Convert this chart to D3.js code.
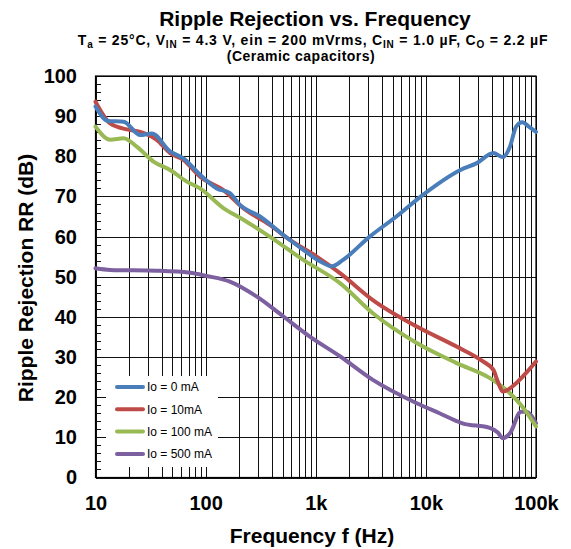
<!DOCTYPE html>
<html>
<head>
<meta charset="utf-8">
<script src="https://cdnjs.cloudflare.com/ajax/libs/d3/7.8.5/d3.min.js"></script>
<style>
  body { margin: 0; background: #fff; }
  svg { font-family: "Liberation Sans", Arial, Helvetica, sans-serif; }
  .grid line { stroke: #111; stroke-width: 1; shape-rendering: crispEdges; }
  .grid path { display: none; }
  .ticklabels path, .ticklabels line { display: none; }
  .ticklabels text { font-size: 20px; font-weight: bold; fill: #000; }
</style>
</head>
<body>
<div id="chart"></div>
<script>
// frequencies (Hz) and ripple rejection (dB)
var freq0 = [10, 13, 18, 25.5, 32.5, 47.6, 62.9, 89, 126, 166, 205, 312, 508, 771, 1100, 1400, 1770, 3090, 5400, 9400, 20600, 29000, 41000, 50000, 58000, 66000, 75000, 86000, 100000];
var rr0   = [92.4, 88.8, 88.6, 85.3, 85.7, 81.2, 79.5, 75.4, 72, 70.8, 67.9, 65, 60.4, 56.7, 53.8, 52.6, 54.2, 60, 65, 70.4, 76.6, 78.3, 80.8, 79.8, 82.4, 87.4, 88.5, 87.4, 86.1];

var freq10 = [10, 13.6, 19.3, 25.5, 36, 47.6, 62.9, 89, 145, 220, 382, 583, 1020, 1660, 3300, 8260, 19000, 33000, 41000, 45000, 50000, 66000, 81000, 100000];
var rr10   = [93.6, 88.2, 86.7, 86.1, 84.1, 80.8, 79.1, 74.9, 71.6, 67.1, 62.9, 59.2, 55, 50.9, 44.2, 37.6, 32.6, 28.9, 26.8, 23.9, 21.4, 23.5, 26, 28.9];

var freq100 = [10, 13.6, 18, 23.7, 33.6, 47.6, 67.5, 89, 145, 220, 382, 771, 1660, 3300, 8260, 19000, 38500, 58000, 75000, 100000];
var rr100   = [87.4, 84.1, 84.5, 82.4, 78.7, 76.6, 73.7, 72, 67.1, 64.2, 60, 54.2, 48.4, 40.9, 33.5, 28.5, 24.7, 21, 17.7, 12.7];

var freq500 = [10, 13.6, 36, 72, 102, 166, 290, 508, 884, 1660, 3300, 8260, 13300, 21500, 38500, 45000, 50000, 58000, 73000, 81000, 100000];
var rr500   = [52.1, 51.7, 51.5, 51, 50.2, 48.8, 45.1, 40.1, 35.1, 30.2, 24.3, 18.5, 16, 13.5, 12.3, 11.2, 9.8, 11, 16.4, 16.4, 13.5];

var seriesNames = ["Io = 0 mA", "Io = 10mA", "Io = 100 mA", "Io = 500 mA"];
var seriesColors = ["#4a7ebb", "#be4b48", "#98b954", "#7d60a0"];

var decadeTicks = [10, 100, 1000, 10000, 100000];
var decadeLabels = ["10", "100", "1k", "10k", "100k"];
var rrTicks = [0, 10, 20, 30, 40, 50, 60, 70, 80, 90, 100];

var W = 571, H = 549;
var plot = {left: 95.5, right: 536, top: 76, bottom: 477.5};

var svg = d3.select("#chart")
            .append("svg")
            .attr("width", W)
            .attr("height", H);

var x = d3.scaleLog()
          .domain([10, 100000])
          .range([plot.left, plot.right]);

var y = d3.scaleLinear()
          .domain([0, 100])
          .range([plot.bottom, plot.top]);

// all 1..9 x decade values for the vertical grid
var minorFreqs = [];
decadeTicks.slice(0, 4).forEach(function(d) {
  for (var k = 1; k < 10; k++) minorFreqs.push(d * k);
});
minorFreqs.push(100000);

//vertical grid
svg.append("g")
   .attr("class", "grid")
   .attr("transform", "translate(0," + plot.bottom + ")")
   .call(d3.axisBottom(x).tickValues(minorFreqs).tickSize(-(plot.bottom - plot.top)).tickFormat(""));

//horizontal grid
svg.append("g")
   .attr("class", "grid")
   .attr("transform", "translate(" + plot.left + ",0)")
   .call(d3.axisLeft(y).tickValues(rrTicks).tickSize(-(plot.right - plot.left)).tickFormat(""));

//small inside ticks every 2 dB
svg.append("g")
   .attr("class", "grid")
   .attr("transform", "translate(" + plot.left + ",0)")
   .call(d3.axisRight(y).tickValues(d3.range(0, 101, 2)).tickSize(5).tickFormat(""));

//frame
svg.append("rect")
   .attr("x", plot.left)
   .attr("y", plot.top)
   .attr("width", plot.right - plot.left)
   .attr("height", plot.bottom - plot.top)
   .attr("fill", "none")
   .attr("stroke", "#000")
   .attr("stroke-width", 1.2);

//legend background hides the grid
var legendX = 106, legendY = 376;
svg.append("rect")
   .attr("x", legendX)
   .attr("y", legendY)
   .attr("width", 112)
   .attr("height", 91)
   .attr("fill", "#fff");

//curves
var allSeries = [
  {f: freq0, v: rr0},
  {f: freq10, v: rr10},
  {f: freq100, v: rr100},
  {f: freq500, v: rr500}
];

var line = d3.line()
             .x(function(d) { return x(d[0]); })
             .y(function(d) { return y(d[1]); })
             .curve(d3.curveMonotoneX);

// draw back to front so blue sits on top like the original
allSeries.slice().reverse().forEach(function(s, i) {
  var idx = allSeries.length - 1 - i;
  svg.append("path")
     .datum(d3.zip(s.f, s.v))
     .attr("d", line)
     .attr("fill", "none")
     .attr("stroke", seriesColors[idx])
     .attr("stroke-width", 4)
     .attr("stroke-linejoin", "round")
     .attr("stroke-linecap", "round");
});

//legend entries
var legend = svg.selectAll(".legendItem")
                .data(seriesNames)
                .enter()
                .append("g")
                .attr("class", "legendItem")
                .attr("transform", function(d, i) {
                  return "translate(" + (legendX + 11) + "," + (legendY + 11 + i * 22.3) + ")";
                });

legend.append("line")
      .attr("x1", 0)
      .attr("x2", 26)
      .attr("stroke", function(d, i) { return seriesColors[i]; })
      .attr("stroke-width", 4)
      .attr("stroke-linecap", "round");

legend.append("text")
      .attr("x", 30)
      .attr("dy", "0.36em")
      .style("font-size", "12px")
      .text(function(d) { return d; });

//tick labels
svg.append("g")
   .attr("class", "ticklabels")
   .attr("transform", "translate(0," + plot.bottom + ")")
   .call(d3.axisBottom(x).tickValues(decadeTicks).tickSize(0).tickPadding(18)
           .tickFormat(function(d, i) { return decadeLabels[i]; }));

svg.append("g")
   .attr("class", "ticklabels")
   .attr("transform", "translate(" + plot.left + ",0)")
   .call(d3.axisLeft(y).tickValues(rrTicks).tickSize(0).tickPadding(18.5));

//axis titles
svg.append("text")
   .attr("x", 312)
   .attr("y", 543)
   .attr("text-anchor", "middle")
   .style("font-size", "21px")
   .style("font-weight", "bold")
   .text("Frequency f (Hz)");

svg.append("text")
   .attr("transform", "translate(33,278) rotate(-90)")
   .attr("text-anchor", "middle")
   .style("font-size", "21px")
   .style("font-weight", "bold")
   .text("Ripple Rejection RR (dB)");

//titles
svg.append("text")
   .attr("x", 315)
   .attr("y", 26)
   .attr("text-anchor", "middle")
   .style("font-size", "21px")
   .style("font-weight", "bold")
   .text("Ripple Rejection vs. Frequency");

var sub = svg.append("text")
             .attr("x", 313)
             .attr("y", 45)
             .attr("text-anchor", "middle")
             .style("font-size", "14px")
             .style("letter-spacing", "0.8px")
             .style("font-weight", "bold");

var subParts = [
  ["T", false], ["a", true], [" = 25°C, V", false], ["IN", true],
  [" = 4.3 V, ein = 200 mVrms, C", false], ["IN", true],
  [" = 1.0 µF, C", false], ["O", true], [" = 2.2 µF", false]
];
subParts.forEach(function(p, i) {
  var t = sub.append("tspan").text(p[0]);
  if (p[1]) {
    t.attr("dy", 3).style("font-size", "10px");
  } else if (i > 0 && subParts[i - 1][1]) {
    // back to the baseline after a subscript
    t.attr("dy", -3);
  }
});

svg.append("text")
   .attr("x", 301)
   .attr("y", 61)
   .attr("text-anchor", "middle")
   .style("font-size", "14px")
   .style("letter-spacing", "0.5px")
   .style("font-weight", "bold")
   .text("(Ceramic capacitors)");
</script>
</body>
</html>
